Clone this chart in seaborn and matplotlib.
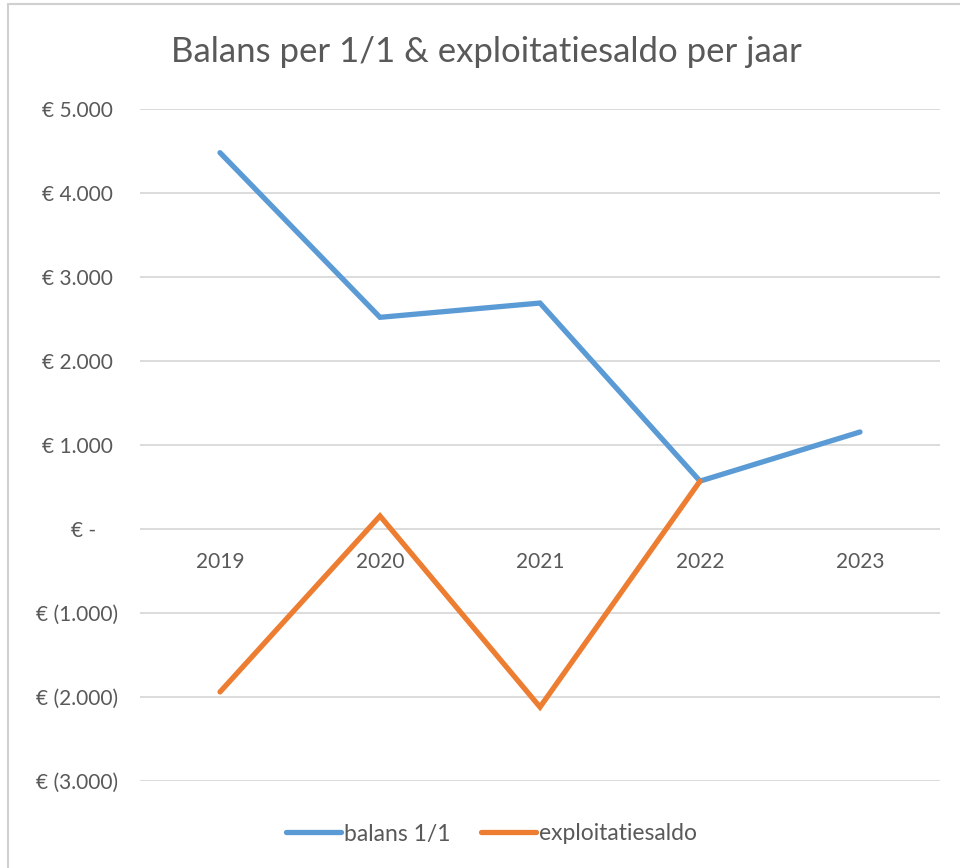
import pandas as pd
import numpy as np
import matplotlib
matplotlib.use("Agg")
import matplotlib.pyplot as plt
import seaborn as sns
from matplotlib.ticker import FuncFormatter, MultipleLocator
from matplotlib.lines import Line2D

years = [2019, 2020, 2021, 2022, 2023]
balans = [4480, 2520, 2690, 570, 1155]
exploitatie = [-1940, 155, -2120, 570, np.nan]
series_names = ["balans 1/1", "exploitatiesaldo"]
colors = ["#5B9BD5", "#ED7D31"]

df = pd.DataFrame({
    "jaar": years * 2,
    "waarde": balans + exploitatie,
    "reeks": [series_names[0]] * 5 + [series_names[1]] * 5,
})
df = df.dropna()

sns.set_style("white")
plt.rcParams["font.family"] = ["Lato", "DejaVu Sans"]
txt = "#595959"

fig = plt.figure(figsize=(9.6, 8.68), dpi=100)
ax = fig.add_axes([140 / 960, 1 - 781 / 868, 800 / 960, 672 / 868])

sns.lineplot(data=df, x="jaar", y="waarde", hue="reeks", palette=colors,
             linewidth=3.8, ax=ax, legend=False, sort=False,
             solid_capstyle="round", solid_joinstyle="miter")

ax.set_xlim(2018.5, 2023.5)
ax.set_ylim(-3000, 5000)
ax.yaxis.set_major_locator(MultipleLocator(1000))
ax.grid(axis="y", color="#D9D9D9", linewidth=1.3)
ax.set_axisbelow(True)
for s in ax.spines.values():
    s.set_visible(False)


def euro(v, pos):
    v = int(round(v))
    if v == 0:
        return "€ -    "
    s = "{:,}".format(abs(v)).replace(",", ".")
    if v < 0:
        return "€ (" + s + ")"
    return "€ " + s + " "


ax.yaxis.set_major_formatter(FuncFormatter(euro))
ax.tick_params(axis="y", length=0, pad=16, labelsize=15, labelcolor=txt)
ax.set_xticks(years)
ax.set_xticklabels([])
for y in years:
    ax.text(y, -390, str(y), ha="center", va="center", fontsize=15, color=txt)
ax.set_xlabel("")
ax.set_ylabel("")

fig.text(0.507, 0.94, "Balans per 1/1 & exploitatiesaldo per jaar",
         ha="center", va="center", fontsize=25, color=txt)

handles = [Line2D([0], [0], color=c, linewidth=3.8, solid_capstyle="round")
           for c in colors]
fig.legend(handles, series_names, loc="center", bbox_to_anchor=(0.512, 1 - 834 / 868),
           ncol=2, frameon=False, fontsize=16.5, labelcolor=txt,
           handlelength=2.4, handletextpad=0.15, columnspacing=1.3)

# chart frame (top and left edges visible)
fig.add_artist(Line2D([8 / 960, 8 / 960], [0, 1 - 4 / 868], color="#D0D0D0", linewidth=1.5))
fig.add_artist(Line2D([8 / 960, 1], [1 - 4 / 868, 1 - 4 / 868], color="#D0D0D0", linewidth=1.5))

fig.savefig("out.png", dpi=100)
